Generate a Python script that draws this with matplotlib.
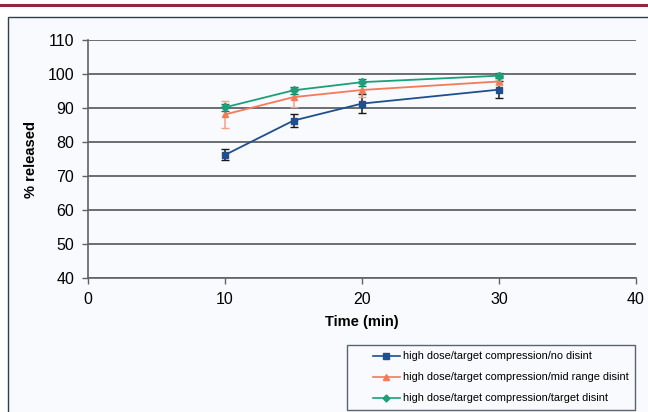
import matplotlib.pyplot as plt
from matplotlib.patches import Rectangle
from matplotlib.lines import Line2D
from matplotlib.legend_handler import HandlerLine2D

plt.rcParams['font.family'] = ['Liberation Sans', 'DejaVu Sans']

time = [10, 15, 20, 30]

no_disint = [76.2, 86.3, 91.3, 95.4]
no_disint_err = [1.6, 1.8, 2.7, 2.4]

mid_disint = [88.1, 93.2, 95.3, 97.8]
mid_disint_err = [4.0, 2.8, 2.0, 1.0]

target_disint = [90.2, 95.2, 97.6, 99.5]
target_disint_err = [1.0, 1.0, 1.0, 0.8]

labels = ['high dose/target compression/no disint',
          'high dose/target compression/mid range disint',
          'high dose/target compression/target disint']

bg = '#f9fafd'

fig = plt.figure(figsize=(6.48, 4.12), dpi=100, facecolor='white')

# maroon rule at top and the framed panel
fig.add_artist(Line2D([0, 1], [1 - 4.5 / 412, 1 - 4.5 / 412], color='#8c2a3c', lw=2.2,
                      transform=fig.transFigure))
fig.add_artist(Rectangle((8 / 648, -0.05), 1.0, 1 - 17 / 412 + 0.05, transform=fig.transFigure,
                         facecolor=bg, edgecolor='#2f3f4f', lw=1.0, zorder=0))

ax = fig.add_axes([88 / 648, 1 - 278 / 412, 548 / 648, 238 / 412])
ax.set_facecolor('none')

# серии
ax.errorbar(time, no_disint, yerr=no_disint_err, color='#1f4f8f', marker='s', ms=4.5,
            lw=1.3, ecolor='#1a1a1a', elinewidth=1.1, capsize=3, zorder=3)
ax.errorbar(time, mid_disint, yerr=mid_disint_err, color='#f47a5a', marker='^', ms=5,
            lw=1.3, ecolor='#f5a184', elinewidth=1.1, capsize=3, zorder=3)
ax.errorbar(time, target_disint, yerr=target_disint_err, color='#1aa07a', marker='D', ms=4,
            lw=1.3, ecolor='#147a5e', elinewidth=1.1, capsize=3, zorder=4)

ax.set_xlim(0, 40)
ax.set_ylim(40, 110)
ax.set_xticks(range(0, 41, 10))
ax.set_yticks(range(40, 111, 10))
ax.yaxis.grid(True, color='#5f6368', lw=1.3)
ax.set_axisbelow(True)
for s in ['top', 'right']:
    ax.spines[s].set_visible(False)
for s in ['left', 'bottom']:
    ax.spines[s].set_color('#5f6368')
    ax.spines[s].set_linewidth(1.2)
ax.tick_params(axis='both', direction='out', length=4, width=1, color='#5f6368',
               labelsize=11.5, pad=6)

ax.set_xlabel('Time (min)', fontsize=10.5, fontweight='bold', labelpad=6)
ax.set_ylabel('% released', fontsize=10.5, fontweight='bold', labelpad=7)

handles = [
    Line2D([], [], color='#1f4f8f', marker='s', ms=4, lw=1.2),
    Line2D([], [], color='#f47a5a', marker='^', ms=4.5, lw=1.2),
    Line2D([], [], color='#1aa07a', marker='D', ms=3.5, lw=1.2),
]
# отступ слева у значков легенды
hmap = {h: HandlerLine2D(xpad=1.75) for h in handles}
leg = fig.legend(handles, labels, loc='lower left', bbox_to_anchor=(347 / 648, 2 / 412),
                 fontsize=7.9, frameon=True, fancybox=False, handlelength=4.2,
                 labelspacing=1.0, borderpad=0.6, borderaxespad=0, handletextpad=0.3,
                 handler_map=hmap)
leg.get_frame().set_edgecolor('#2f3f4f')
leg.get_frame().set_facecolor(bg)
leg.get_frame().set_linewidth(1.0)

fig.savefig('out.png', dpi=100, facecolor='white')
